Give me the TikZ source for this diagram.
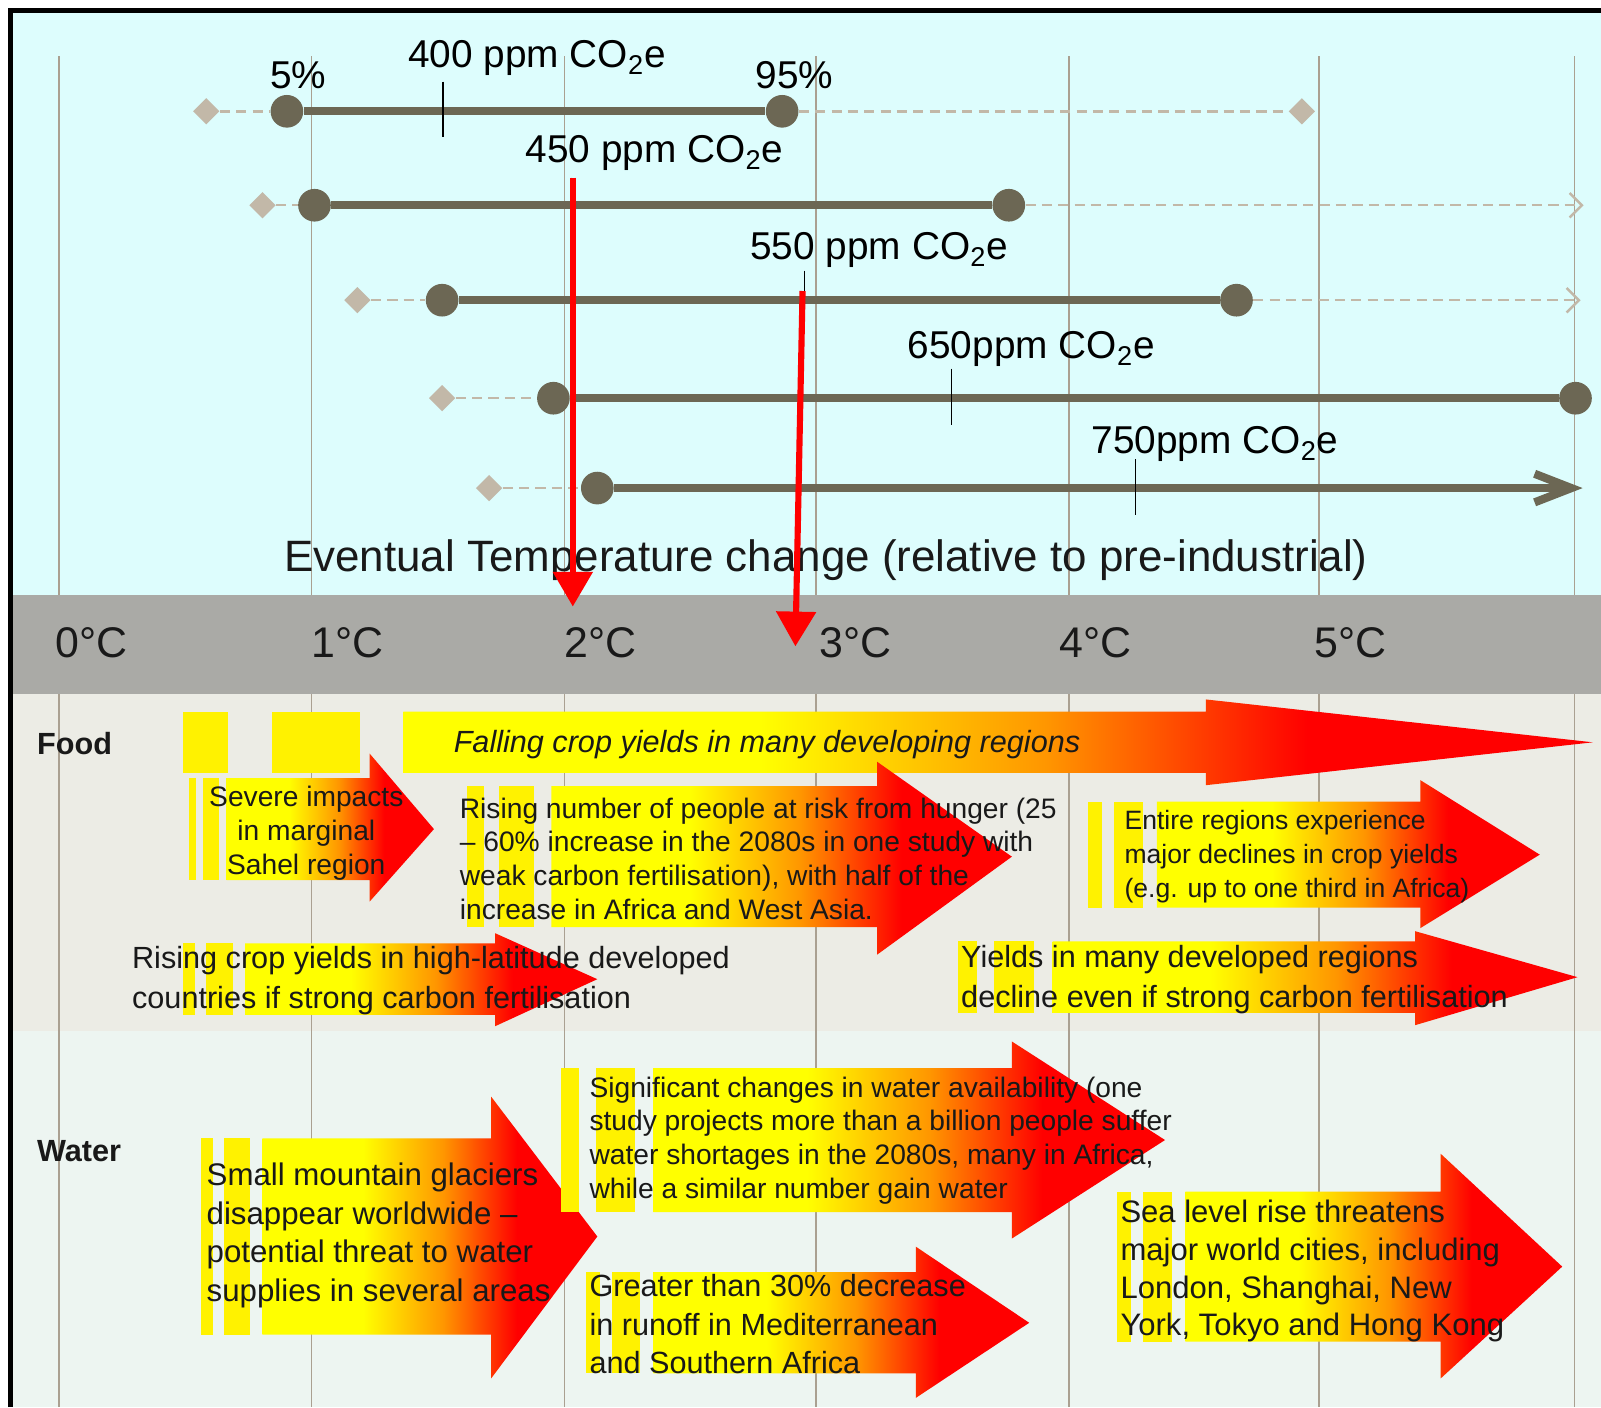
\documentclass[tikz,border=0pt]{standalone}
\usepackage{fontspec}
\setmainfont{Liberation Sans}
\usetikzlibrary{shapes.geometric,arrows.meta}
\definecolor{skyback}{RGB}{221,253,253}
\definecolor{bandgrey}{RGB}{170,170,166}
\definecolor{foodback}{RGB}{236,236,229}
\definecolor{waterback}{RGB}{237,245,241}
\definecolor{gridtan}{RGB}{170,160,145}
\definecolor{barcol}{RGB}{108,103,84}
\definecolor{faintcol}{RGB}{194,184,168}
\definecolor{inkcol}{RGB}{25,25,25}
\definecolor{heatorange}{RGB}{255,150,0}
\pgfdeclarehorizontalshading{heat}{100bp}{color(0bp)=(yellow); color(40bp)=(yellow); color(52bp)=(heatorange); color(63bp)=(red); color(100bp)=(red)}

% shaded impact arrow: shaft x, head x, tip x, shaft top, shaft bottom, head top, head bottom
\newcommand{\heatarrow}[7]{%
  \shade[shading=heat] (#1,#4) -- (#2,#4) -- (#2,#6) -- (#3,{(#4+#5)/2}) -- (#2,#7) -- (#2,#5) -- (#1,#5) -- cycle;}
% the two yellow slivers in front of an arrow
\newcommand{\heatstripes}[4]{%
  \fill[yellow] (#1,#3) rectangle ({#1+0.2*(#2-#1)},#4);
  \fill[yellow] ({#1+0.38*(#2-#1)},#3) rectangle ({#1+0.8*(#2-#1)},#4);}

\begin{document}
\begin{tikzpicture}[x=0.5pt,y=-0.5pt,
  dot/.style={circle,fill=barcol,inner sep=0pt,minimum size=16pt},
  cue/.style={diamond,fill=faintcol,inner sep=0pt,minimum size=13pt},
  bar/.style={line width=4pt,draw=barcol},
  faint/.style={line width=1.2pt,draw=faintcol,dash pattern=on 5pt off 3pt},
  notch/.style={line width=0.8pt,black},
  ppm/.style={font=\fontsize{19}{22}\selectfont,inner sep=0pt},
  degc/.style={font=\fontsize{21}{24}\selectfont,inner sep=0pt,text=inkcol},
  sector/.style={font=\bfseries\fontsize{15}{18}\selectfont,anchor=west,inner sep=0pt,text=inkcol},
  note/.style={anchor=west,align=left,inner sep=0pt,text=inkcol},
  pointer/.style={red,line width=3pt,-{Triangle[length=17pt,width=19pt]}}]
\useasboundingbox (0,0) rectangle (1568,1378);
\fill[white] (0,0) rectangle (1568,1378);
\fill[skyback] (11,11) rectangle (1568,583);
\fill[foodback] (11,680) rectangle (1568,1010);
\fill[waterback] (11,1010) rectangle (1568,1378);
\foreach \gx in {58,305,553,799,1047,1292,1542}
  \draw[gridtan,line width=0.8pt] (\gx,55) -- (\gx,1378);
\fill[bandgrey] (11,583) rectangle (1568,680);
\draw[line width=2.5pt] (10,1378) -- (10,10) -- (1568,10);

% 400 ppm
\node[cue] (k1a) at (202,109) {};
\node[cue] (k1b) at (1275,109) {};
\node[dot] (d1a) at (281,109) {};
\node[dot] (d1b) at (766,109) {};
\draw[faint] (k1a) -- (d1a);
\draw[faint] (d1b) -- (k1b);
\draw[bar] (d1a) -- (d1b);
\draw[notch] (434,80) -- (434,134);
\node[ppm] (c400) at (526,57) {400 ppm CO\textsubscript{2}e};
\node[ppm] (p5) at (292,74) {5\%};
\node[ppm] (p95) at (778,74) {95\%};

% 450 ppm
\node[cue] (k2a) at (257,201) {};
\node[dot] (d2a) at (308,201) {};
\node[dot] (d2b) at (988,201) {};
\coordinate (e2) at (1551,201);
\draw[faint] (k2a) -- (d2a);
\draw[faint,-{Straight Barb[length=6pt,width=12pt]}] (d2b) -- (e2);
\draw[bar] (d2a) -- (d2b);
\draw[notch] (559,174) -- (559,226);
\node[ppm] (c450) at (641,150) {450 ppm CO\textsubscript{2}e};

% 550 ppm
\node[cue] (k3a) at (350,294) {};
\node[dot] (d3a) at (433,294) {};
\node[dot] (d3b) at (1211,294) {};
\coordinate (e3) at (1548,294);
\draw[faint] (k3a) -- (d3a);
\draw[faint,-{Straight Barb[length=6pt,width=12pt]}] (d3b) -- (e3);
\draw[bar] (d3a) -- (d3b);
\draw[notch] (788,265) -- (788,319);
\node[ppm] (c550) at (861,245) {550 ppm CO\textsubscript{2}e};

% 650 ppm
\node[cue] (k4a) at (433,390) {};
\node[dot] (d4a) at (542,390) {};
\node[dot] (d4b) at (1543,390) {};
\draw[faint] (k4a) -- (d4a);
\draw[bar] (d4a) -- (d4b);
\draw[notch] (932,361) -- (932,416);
\node[ppm] (c650) at (1010,342) {650ppm CO\textsubscript{2}e};

% 750 ppm
\node[cue] (k5a) at (479,478) {};
\node[dot] (d5a) at (585,478) {};
\coordinate (e5) at (1550,478);
\draw[faint] (k5a) -- (d5a);
\draw[bar,-{Straight Barb[length=18pt,width=14pt]}] (d5a) -- (e5);
\draw[notch] (1112,450) -- (1112,504);
\node[ppm] (c750) at (1190,435) {750ppm CO\textsubscript{2}e};

\node[font=\fontsize{21.5}{24}\selectfont,inner sep=0pt,text=inkcol] (axis) at (809,549) {Eventual Temperature change (relative to pre-industrial)};

\foreach \dg/\lx in {0/90,1/340,2/588,3/838,4/1073,5/1323}
  \node[degc] (deg\dg) at (\lx,629) {\dg°C};

\coordinate (r1s) at (561,174);
\coordinate (r1e) at (561,594);
\coordinate (r2s) at (786,285);
\coordinate (r2e) at (779,633);
\draw[pointer] (r1s) -- (r1e);
\draw[pointer] (r2s) -- (r2e);

% Food
\node[sector] (food) at (36,728) {Food};
\fill[yellow] (179,697) rectangle (223,757);
\fill[yellow] (266,697) rectangle (353,757);
\heatarrow{395}{1181}{1560}{697}{757}{685}{769}
\node[note,font=\itshape\fontsize{15}{18}\selectfont] (falling) at (444,729) {Falling crop yields in many developing regions};

\heatstripes{185}{222}{762}{862}
\heatarrow{222}{362}{425}{762}{862}{738}{883}
\node[note,align=center,anchor=center,font=\fontsize{13.8}{16.8}\selectfont] (sahel) at (300,816) {Severe impacts\\in marginal\\Sahel region};

\heatstripes{457}{540}{770}{908}
\heatarrow{540}{859}{991}{770}{908}{746}{935}
\node[note,font=\fontsize{13.8}{16.5}\selectfont] (hunger) at (450,841) {Rising number of people at risk from hunger (25\\– 60\% increase in the 2080s in one study with\\weak carbon fertilisation), with half of the\\increase in Africa and West Asia.};

\heatstripes{1066}{1133}{785}{889}
\heatarrow{1133}{1391}{1508}{785}{889}{764}{909}
\node[note,font=\fontsize{13}{16.5}\selectfont] (entire) at (1101,839) {Entire regions experience\\major declines in crop yields\\(e.g. up to one third in Africa)};

\heatstripes{179}{240}{924}{994}
\heatarrow{240}{485}{585}{924}{994}{914}{1005}
\node[note,font=\fontsize{15}{19.5}\selectfont] (highlat) at (129,960) {Rising crop yields in high-latitude developed\\countries if strong carbon fertilisation};

\heatstripes{938}{1031}{922}{992}
\heatarrow{1031}{1386}{1545}{922}{992}{912}{1004}
\node[note,font=\fontsize{15}{19.5}\selectfont] (developed) at (941,959) {Yields in many developed regions\\decline even if strong carbon fertilisation};

% Water
\node[sector] (water) at (36,1127) {Water};

\heatstripes{197}{257}{1115}{1307}
\heatarrow{257}{481}{585}{1115}{1307}{1074}{1350}
\node[note,font=\fontsize{15.3}{18.8}\selectfont] (glaciers) at (202,1210) {Small mountain glaciers\\disappear worldwide –\\potential threat to water\\supplies in several areas};

\heatstripes{549}{640}{1046}{1187}
\heatarrow{640}{991}{1141}{1046}{1187}{1020}{1213}
\node[note,font=\fontsize{13.8}{16.5}\selectfont] (availability) at (577,1117) {Significant changes in water availability (one\\study projects more than a billion people suffer\\water shortages in the 2080s, many in Africa,\\while a similar number gain water};

\heatstripes{574}{640}{1246}{1345}
\heatarrow{640}{897}{1008}{1246}{1345}{1221}{1369}
\node[note,font=\fontsize{15}{18.8}\selectfont] (runoff) at (577,1297) {Greater than 30\% decrease\\in runoff in Mediterranean\\and Southern Africa};

\heatstripes{1094}{1161}{1167}{1314}
\heatarrow{1161}{1411}{1530}{1167}{1314}{1130}{1350}
\node[note,font=\fontsize{15.2}{18.4}\selectfont] (sealevel) at (1097,1245) {Sea level rise threatens\\major world cities, including\\London, Shanghai, New\\York, Tokyo and Hong Kong};
\end{tikzpicture}
\end{document}
